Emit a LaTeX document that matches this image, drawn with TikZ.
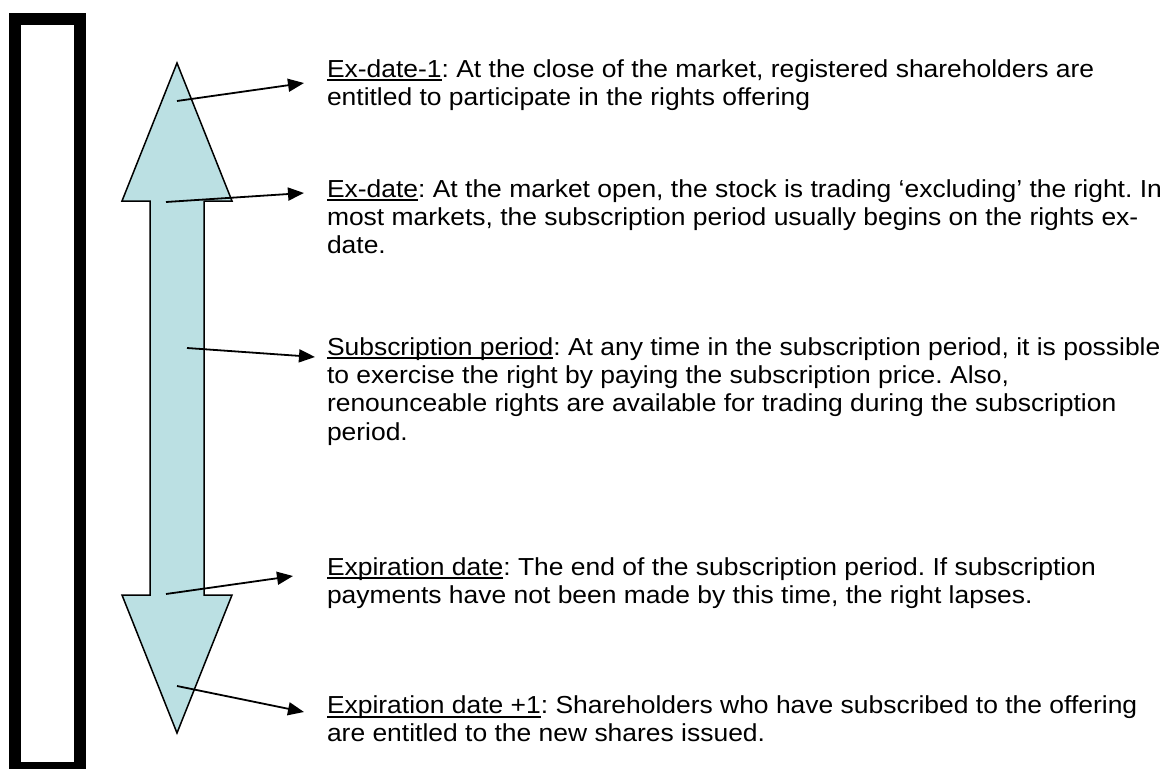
\documentclass[tikz,border=0pt]{standalone}
\usepackage{fontspec}
\setmainfont[FakeStretch=1.075]{Liberation Sans}
\usetikzlibrary{arrows.meta}
\definecolor{shaftblue}{RGB}{187,224,227}
\newcommand{\ulx}[1]{\setbox0\hbox{#1}\rlap{\rule[-4.3pt]{\wd0}{2pt}}\box0}
\begin{document}
\begin{tikzpicture}[x=1pt,y=-1pt,
  para/.style={anchor=base west,align=left,inner sep=0pt,outer sep=0pt,
    font=\fontsize{24.6}{28.4}\selectfont\frenchspacing},
  conn/.style={line width=1.8pt,-{Triangle[length=16pt,width=13pt]}},
  bigarrow/.style={draw=black,line width=1.5pt,fill=shaftblue,line join=miter}]
\useasboundingbox (0,0) rectangle (1172,768);
\fill[white] (0,0) rectangle (1172,768);
\clip (0,0) rectangle (1172,768);
% left frame bar
\draw[line width=12pt] (15,19) rectangle (80,768);
% double-headed block arrow
\draw[bigarrow] (177,63) -- (232,201) -- (204,201) -- (204,595) -- (232,595)
  -- (177,733) -- (122,595) -- (150,595) -- (150,201) -- (122,201) -- cycle;
% connector end points
\coordinate (s1) at (177,101);  \coordinate (e1) at (304,83);
\coordinate (s2) at (166,202);  \coordinate (e2) at (304,193);
\coordinate (s3) at (187,348);  \coordinate (e3) at (315,357);
\coordinate (s4) at (166,594);  \coordinate (e4) at (293,576);
\coordinate (s5) at (177,686);  \coordinate (e5) at (304,712);
\draw[conn] (s1) -- (e1);
\draw[conn] (s2) -- (e2);
\draw[conn] (s3) -- (e3);
\draw[conn] (s4) -- (e4);
\draw[conn] (s5) -- (e5);
% text blocks (anchored at the baseline of their last line)
\node[para] (t1) at (327,105.4) {\ulx{Ex-date-1}: At the close of the market, registered shareholders are\\
entitled to participate in the rights offering};
\node[para] (t2) at (327,253.8) {\ulx{Ex-date}: At the market open, the stock is trading ‘excluding’ the right. In\\
most markets, the subscription period usually begins on the rights ex-\\
date.};
\node[para] (t3) at (327,440.2) {\ulx{Subscription period}: At any time in the subscription period, it is possible\\
to exercise the right by paying the subscription price. Also,\\
renounceable rights are available for trading during the subscription\\
period.};
\node[para] (t4) at (327,603.4) {\ulx{Expiration date}: The end of the subscription period. If subscription\\
payments have not been made by this time, the right lapses.};
\node[para] (t5) at (327,741.8) {\ulx{Expiration date +1}: Shareholders who have subscribed to the offering\\
are entitled to the new shares issued.};
\end{tikzpicture}
\end{document}
